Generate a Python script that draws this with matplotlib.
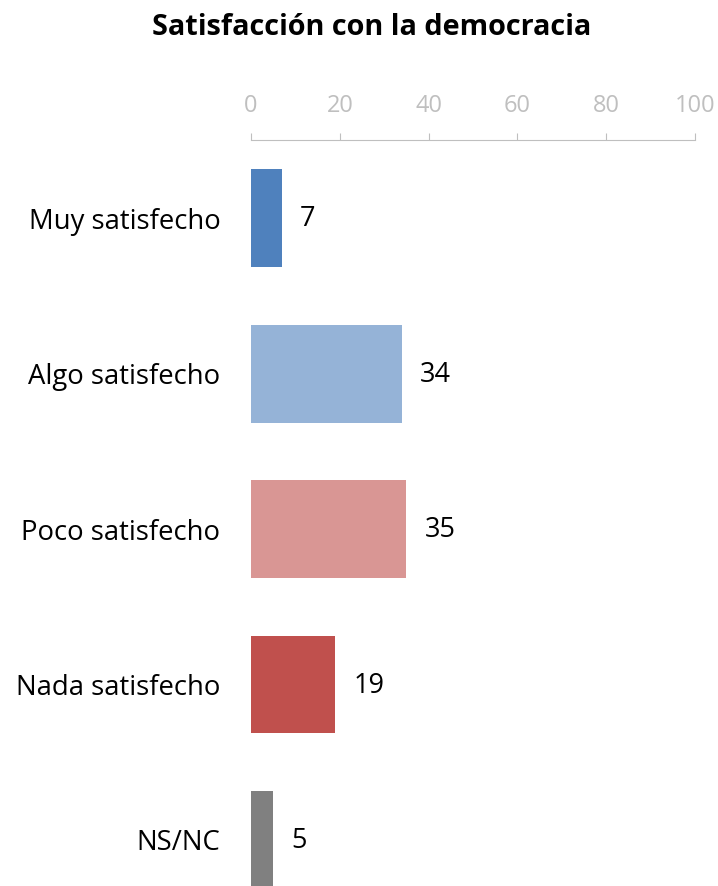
import matplotlib.pyplot as plt

plt.rcParams['font.family'] = ['Open Sans', 'DejaVu Sans']

categories = ["Muy satisfecho", "Algo satisfecho", "Poco satisfecho", "Nada satisfecho", "NS/NC"]
values = [7, 34, 35, 19, 5]
colors = ["#4F81BD", "#95B3D7", "#D99694", "#C0504D", "#808080"]
ticks = [0, 20, 40, 60, 80, 100]

fig = plt.figure(figsize=(7.18, 8.86), dpi=100)
ax = fig.add_axes([0.3496, 0.0, 0.6184, 0.842])

pos = list(range(len(categories)))
bars = ax.barh(pos, values, height=0.63, color=colors)

for b, v in zip(bars, values):
    ax.annotate(str(v), (b.get_width(), b.get_y() + b.get_height() / 2),
                xytext=(13, -1), textcoords="offset points",
                va="center", ha="left", fontsize=19.5, color="black")

ax.set_xlim(0, 100)
ax.set_ylim(4.296, -0.502)
ax.set_yticks(pos)
ax.set_yticklabels(categories, fontsize=19.8)
ax.tick_params(axis="y", length=0, pad=22)

ax.xaxis.tick_top()
ax.set_xticks(ticks)
ax.tick_params(axis="x", colors="#BFBFBF", labelcolor="#BFBFBF", direction="out",
               length=5, labelsize=17, pad=11)
for s in ["right", "bottom", "left"]:
    ax.spines[s].set_visible(False)
ax.spines["top"].set_color("#BFBFBF")

fig.suptitle("Satisfacción con la democracia", fontsize=20.8, fontweight="bold",
             x=0.518, y=0.985)

plt.savefig("out.png", dpi=100)
